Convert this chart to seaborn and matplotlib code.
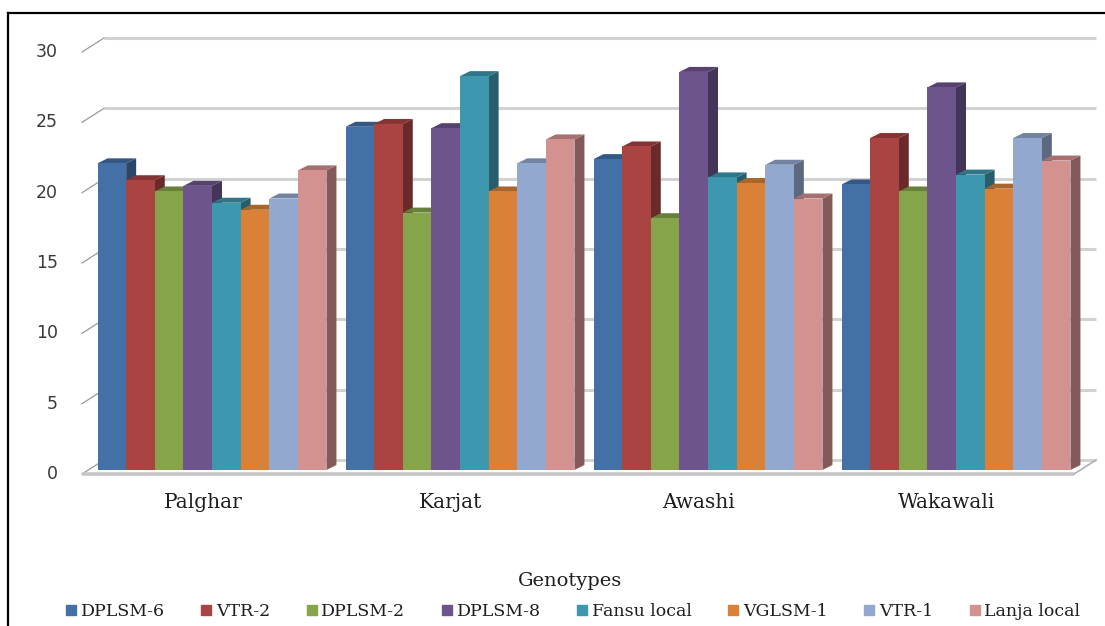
import numpy as np
import pandas as pd
import matplotlib
matplotlib.use("Agg")
import matplotlib.pyplot as plt
import matplotlib.colors as mcolors
from matplotlib.patches import Polygon
from matplotlib.lines import Line2D
import seaborn as sns

# ---- data -------------------------------------------------------------
locations = ["Palghar", "Karjat", "Awashi", "Wakawali"]
genotypes = ["DPLSM-6", "VTR-2", "DPLSM-2", "DPLSM-8",
             "Fansu local", "VGLSM-1", "VTR-1", "Lanja local"]
dplsm_6 = [21.8, 24.4, 22.1, 20.3]
vtr_2 = [20.6, 24.6, 23.0, 23.6]
dplsm_2 = [19.8, 18.3, 17.9, 19.8]
dplsm_8 = [20.2, 24.3, 28.3, 27.2]
fansu_local = [19.0, 28.0, 20.8, 21.0]
vglsm_1 = [18.5, 19.8, 20.4, 20.0]
vtr_1 = [19.3, 21.8, 21.7, 23.6]
lanja_local = [21.3, 23.5, 19.3, 22.0]
y_ticks = [0, 5, 10, 15, 20, 25, 30]
x_title = "Genotypes"

series = [dplsm_6, vtr_2, dplsm_2, dplsm_8, fansu_local, vglsm_1, vtr_1, lanja_local]
colors = ["#4470A8", "#A94442", "#86A44A", "#6E548D",
          "#3D97AE", "#DA8137", "#93A8CF", "#D39190"]

rows = []
for g, vals in zip(genotypes, series):
    for loc, v in zip(locations, vals):
        rows.append({"Location": loc, "Genotype": g, "Value": v})
df = pd.DataFrame(rows)

# ---- figure -----------------------------------------------------------
W, H = 1105, 626
fig = plt.figure(figsize=(W / 100, H / 100), dpi=100)
fig.patch.set_facecolor("white")

AX_L, AX_W, AX_BASE, AX_H = 88, 992, 470, 422
ax = fig.add_axes([AX_L / W, (H - AX_BASE) / H, AX_W / W, AX_H / H])

sns.barplot(data=df, x="Location", y="Value", hue="Genotype",
            order=locations, hue_order=genotypes, palette=colors,
            saturation=1, width=0.923, legend=False, errorbar=None,
            linewidth=0, ax=ax, zorder=5)
ax.set_xlim(-0.5, 3.5)
ax.set_ylim(0, 30)
ax.set_axis_off()

# pixel -> data unit conversion (fixed axes size and limits)
PX = 4.0 / AX_W
PY = 30.0 / AX_H

def shift(x, y, dx, dy):
    return x + dx * PX, y + dy * PY

# depth of the wall/floor (front plane and back plane offsets in pixels)
FRONT = (-6, -4)
BACK = (16, 10)
x0, x1 = -0.5, 3.5

# floor
fl = [shift(x0, 0, *FRONT), shift(x1, 0, *FRONT),
      shift(x1, 0, *BACK), shift(x0, 0, *BACK)]
ax.add_patch(Polygon(fl, closed=True, facecolor="white", edgecolor="none",
                     zorder=0.5, clip_on=False))

# back-wall gridlines, slanted tick lines and tick labels
for v in y_ticks:
    bx0, by = shift(x0, v, *BACK)
    bx1, _ = shift(x1, v, *BACK)
    ax.plot([bx0, bx1], [by, by], color="#d2d2d2", lw=2.2,
            solid_capstyle="butt", zorder=1, clip_on=False)
    fx, fy = shift(x0, v, *FRONT)
    ax.plot([fx, bx0], [fy, by], color="#9a9a9a", lw=0.9, zorder=1,
            clip_on=False)
    tx, ty = shift(fx, fy, -24, 0)
    ax.text(tx, ty, str(v), ha="right", va="center", fontsize=12.5,
            color="#3a3a3a", family="DejaVu Sans")

# floor front edge and right-hand edge
fx0, fy0 = shift(x0, 0, *FRONT)
fx1, fy1 = shift(x1, 0, *FRONT)
bx1, by1 = shift(x1, 0, *BACK)
ax.plot([fx0, fx1], [fy0, fy1], color="#c6c6c6", lw=2.6,
        solid_capstyle="butt", zorder=2, clip_on=False)
ax.plot([fx1, bx1], [fy1, by1], color="#b0b0b0", lw=1.2, zorder=2,
        clip_on=False)

# give each bar a top and a right side face
DEPTH = (10, 5)
for container, col in zip(ax.containers, colors):
    rgb = np.array(mcolors.to_rgb(col))
    side_c = rgb * 0.62
    top_c = rgb * 0.78
    for bar in container:
        bxl = bar.get_x()
        bw = bar.get_width()
        bh = bar.get_height()
        bxr = bxl + bw
        side = [(bxr, 0), (bxr, bh), shift(bxr, bh, *DEPTH), shift(bxr, 0, *DEPTH)]
        top = [(bxl, bh), (bxr, bh), shift(bxr, bh, *DEPTH), shift(bxl, bh, *DEPTH)]
        ax.add_patch(Polygon(side, closed=True, facecolor=side_c,
                             edgecolor="none", zorder=3, clip_on=False))
        ax.add_patch(Polygon(top, closed=True, facecolor=top_c,
                             edgecolor="none", zorder=4, clip_on=False))

# category labels under the floor
for i, loc in enumerate(locations):
    lx, ly = shift(i, 0, -9, -33)
    ax.text(lx, ly, loc, ha="center", va="center", fontsize=14.5,
            family="DejaVu Serif", color="#1e1e1e")

# axis title and legend
fig.text(570 / W, 1 - 581 / H, x_title, ha="center", va="center",
         fontsize=14, family="DejaVu Serif", color="#1e1e1e")

handles = [Line2D([], [], marker="s", linestyle="none", markersize=7,
                  markerfacecolor=c, markeredgecolor=c) for c in colors]
fig.legend(handles, genotypes, loc="center", bbox_to_anchor=(573 / W, 1 - 612 / H),
           ncol=8, frameon=False, handlelength=0.6, handletextpad=0.25,
           columnspacing=2.1, prop={"family": "DejaVu Serif", "size": 12.5},
           labelcolor="#1e1e1e")

# frame around the chart
fig.add_artist(Line2D([8 / W, 8 / W], [0, 1 - 13 / H], transform=fig.transFigure,
                      color="black", lw=1.6))
fig.add_artist(Line2D([8 / W, 1], [1 - 13 / H, 1 - 13 / H], transform=fig.transFigure,
                      color="black", lw=1.6))

fig.savefig("out.png", dpi=100)
